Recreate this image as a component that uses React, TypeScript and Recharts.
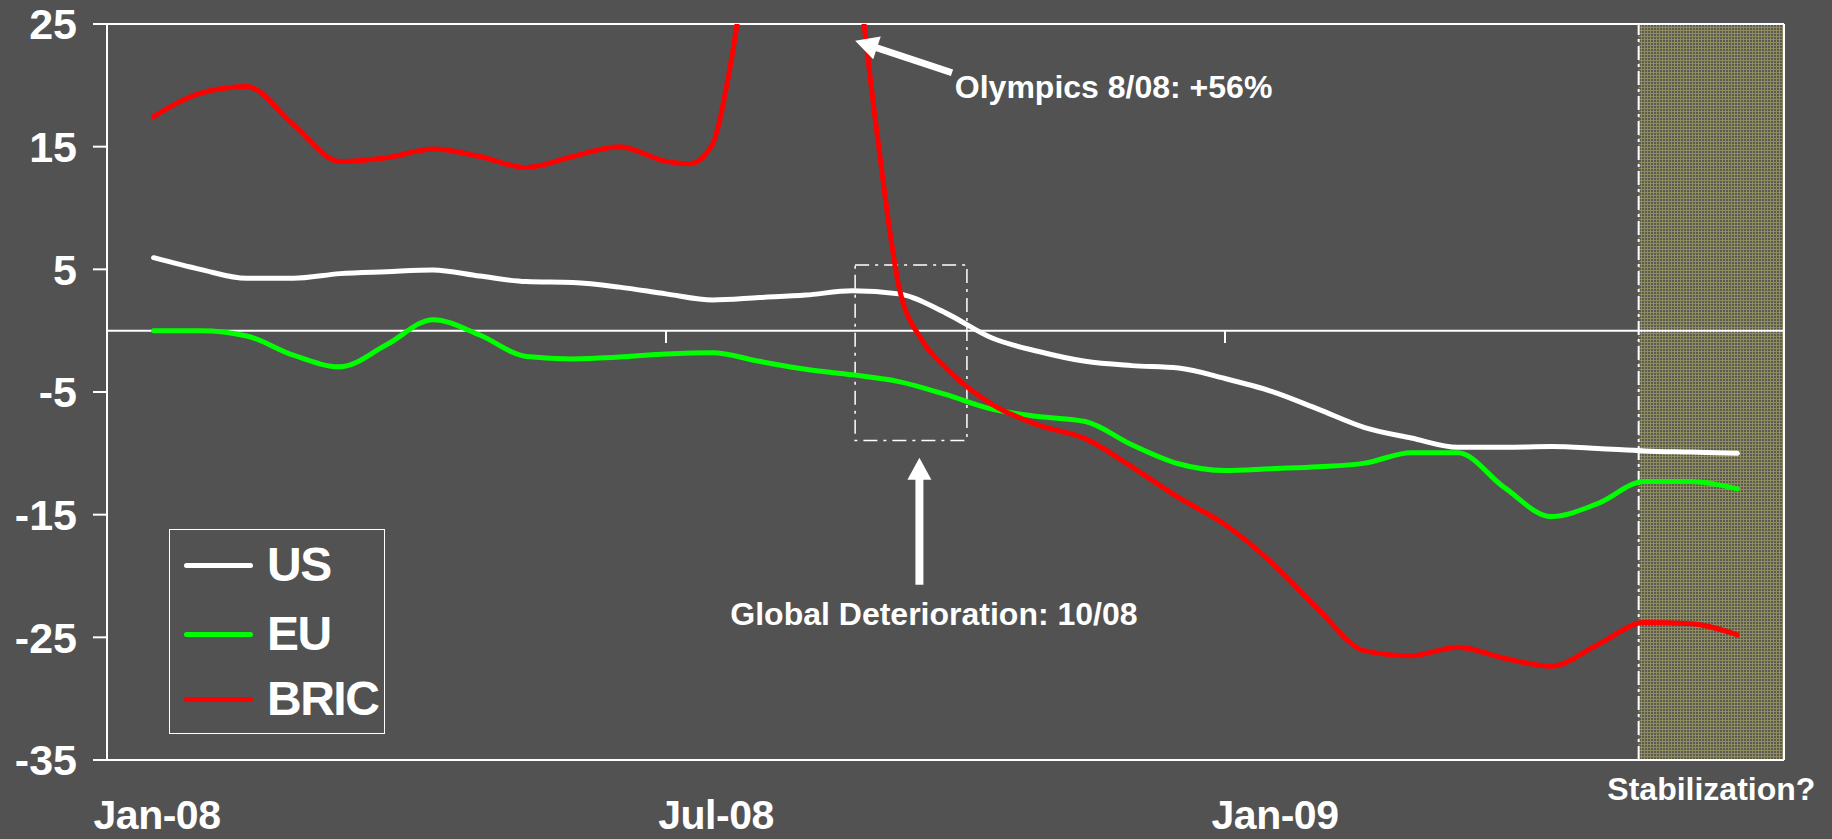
import React from 'react';
import {
  LineChart,
  Line,
  XAxis,
  YAxis,
  ReferenceLine,
  ReferenceArea,
  ReferenceDot,
  Legend,
} from 'recharts';

const FONT = '"Liberation Sans", Arial, Helvetica, sans-serif';
const BG = '#525252';

// x positions in months since Jan-08
const months = [
  0.5, 1, 1.5, 2, 2.5, 3, 3.5, 4, 4.5, 5, 5.5, 6, 6.5, 7, 7.5, 8, 8.5, 9, 9.5, 10,
  10.5, 11, 11.5, 12, 12.5, 13, 13.5, 14, 14.5, 15, 15.5, 16, 16.5, 17, 17.5,
];
const usValues = [
  5.95, 5.0, 4.27, 4.27, 4.65, 4.81, 4.95, 4.45, 4.0, 3.92, 3.55, 3.0, 2.5, 2.7, 2.9,
  3.25, 3.0, 1.45, -0.6, -1.7, -2.5, -2.85, -3.05, -3.9, -4.95, -6.4, -7.9, -8.75,
  -9.5, -9.5, -9.45, -9.6, -9.8, -9.9, -10.0,
];
const euValues = [
  0, 0, -0.43, -2.0, -2.95, -1.15, 0.9, -0.35, -2.1, -2.3, -2.15, -1.9, -1.8, -2.5,
  -3.15, -3.6, -4.15, -5.2, -6.4, -7.0, -7.41, -9.3, -10.85, -11.4, -11.25, -11.1,
  -10.8, -9.95, -9.95, -12.8, -15.15, -14.1, -12.3, -12.3, -12.9,
];
const bricMonths = [
  0.5, 1, 1.5, 2, 2.5, 3, 3.5, 4, 4.5, 5, 5.5, 6, 6.25, 6.5, 6.65, 6.8, 7, 7.5, 8,
  8.25, 8.5, 8.75, 9, 9.5, 10, 10.5, 11, 11.5, 12, 12.5, 13, 13.5, 14, 14.5, 15,
  15.5, 16, 16.5, 17, 17.5,
];
const bricValues = [
  17.45, 19.35, 19.9, 16.8, 13.8, 14.1, 14.8, 14.2, 13.3, 14.2, 15.0, 13.8, 13.6,
  15.2, 19.9, 27, 40, 56, 33, 17, 3.6, -0.8, -3.0, -6.0, -7.7, -8.8, -11.1, -13.6,
  -15.8, -18.9, -22.7, -26.1, -26.5, -25.8, -26.7, -27.35, -25.6, -23.8, -23.9, -24.8,
];

const yTicks = [25, 15, 5, -5, -15, -25, -35];
const xTickMonths = [0, 6, 12];
const xTickLabels = ['Jan-08', 'Jul-08', 'Jan-09'];

const seriesNames = ['US', 'EU', 'BRIC'];
const seriesColors = ['#FFFFFF', '#00FF00', '#FF0000'];

// annotation anchors (data units: months, percent)
const stabilizationStart = 16.44;
const xMax = 18;
const deteriorationBox = { x1: 8.03, x2: 9.23, y1: -8.96, y2: 5.36 };
const upArrow = { x: 8.72, tail: -20.72, tip: -10.37 };
const olympicsArrow = { tailX: 9.07, tailY: 21.03, tipX: 8.03, tipY: 23.64 };
const olympicsText = { x: 9.1, y: 18.97, label: 'Olympics 8/08: +56%' };
const deteriorationText = { x: 8.876, y: -23.98, label: 'Global Deterioration: 10/08' };

const usData = months.map((m, i) => ({ m, v: usValues[i] }));
const euData = months.map((m, i) => ({ m, v: euValues[i] }));
const bricData = bricMonths.map((m, i) => ({ m, v: bricValues[i] }));

const makeArrow =
  (headLen: number, headWidth: number, shaftWidth: number) => (props: any) => {
    const { x1, y1, x2, y2 } = props;
    const dx = x2 - x1;
    const dy = y2 - y1;
    const len = Math.hypot(dx, dy) || 1;
    const ux = dx / len;
    const uy = dy / len;
    const px = -uy;
    const py = ux;
    const bx = x2 - ux * headLen;
    const by = y2 - uy * headLen;
    const hw = headWidth / 2;
    return (
      <g>
        <line x1={x1} y1={y1} x2={bx + ux * 2} y2={by + uy * 2} stroke="#fff" strokeWidth={shaftWidth} />
        <polygon
          points={`${x2},${y2} ${bx + px * hw},${by + py * hw} ${bx - px * hw},${by - py * hw}`}
          fill="#fff"
        />
      </g>
    );
  };

const XTick = (props: any) => {
  const { x, y, index } = props;
  return (
    <text
      x={x + 50}
      y={y + 69}
      textAnchor="middle"
      fill="#fff"
      fontSize={41}
      fontWeight="bold"
      fontFamily={FONT}
      letterSpacing={-0.5}
    >
      {xTickLabels[index]}
    </text>
  );
};

const textShape =
  (label: string, anchor: 'start' | 'middle' | 'end') => (props: any) => (
    <text
      x={props.cx}
      y={props.cy}
      textAnchor={anchor}
      fill="#fff"
      fontSize={32}
      fontWeight="bold"
      fontFamily={FONT}
    >
      {label}
    </text>
  );

const LegendBox = () => {
  const rowY = [35, 104, 169];
  return (
    <div
      style={{
        position: 'relative',
        width: 216,
        height: 205,
        border: '1.5px solid #fff',
        boxSizing: 'border-box',
        fontFamily: FONT,
      }}
    >
      {seriesNames.map((name, i) => (
        <React.Fragment key={name}>
          <div
            style={{
              position: 'absolute',
              left: 14,
              top: rowY[i] - 2.5,
              width: 69,
              height: 5,
              borderRadius: 3,
              background: seriesColors[i],
            }}
          />
          <div
            style={{
              position: 'absolute',
              left: 97,
              top: rowY[i] - 30,
              height: 60,
              lineHeight: '60px',
              fontSize: 48,
              fontWeight: 'bold',
              color: '#fff',
              letterSpacing: -1.5,
              whiteSpace: 'nowrap',
            }}
          >
            {name}
          </div>
        </React.Fragment>
      ))}
    </div>
  );
};

export default function App() {
  return (
    <div
      style={{
        position: 'absolute',
        left: 0,
        top: 0,
        width: 1832,
        height: 839,
        background: BG,
        overflow: 'hidden',
      }}
    >
      <LineChart
        width={1832}
        height={839}
        margin={{ top: 24, right: 48, bottom: 0, left: 0 }}
        style={{ background: BG }}
      >
        <defs>
          <pattern id="stabPattern" width="3" height="3" patternUnits="userSpaceOnUse">
            <rect width="3" height="3" fill="#5a5a50" />
            <rect width="3" height="1" fill="#8f8d5f" />
            <rect width="1" height="3" fill="#8f8d5f" />
          </pattern>
        </defs>
        <XAxis
          dataKey="m"
          type="number"
          domain={[0, xMax]}
          ticks={xTickMonths}
          allowDataOverflow
          tickLine={false}
          tickSize={0}
          tickMargin={0}
          height={79}
          axisLine={{ stroke: '#fff', strokeWidth: 2 }}
          tick={<XTick />}
          interval={0}
        />
        <YAxis
          type="number"
          domain={[-35, 25]}
          ticks={yTicks}
          allowDataOverflow
          width={107}
          interval={0}
          tickSize={14}
          tickMargin={16}
          tickLine={{ stroke: '#fff', strokeWidth: 2 }}
          axisLine={{ stroke: '#fff', strokeWidth: 2 }}
          tick={{ fill: '#fff', fontSize: 43, fontWeight: 'bold', fontFamily: FONT }}
        />
        <ReferenceArea
          x1={stabilizationStart}
          x2={xMax}
          y1={-35}
          y2={25}
          fill="url(#stabPattern)"
          fillOpacity={1}
          stroke="none"
          label={{
            value: 'Stabilization?',
            position: 'bottom',
            offset: 17,
            fill: '#fff',
            fontSize: 32,
            fontWeight: 'bold',
            fontFamily: FONT,
          }}
        />
        <ReferenceLine
          x={stabilizationStart}
          stroke="#fff"
          strokeWidth={2}
          strokeDasharray="14 4 3 4"
        />
        <ReferenceLine y={25} stroke="#fff" strokeWidth={2} />
        <ReferenceLine x={xMax} stroke="#fff" strokeWidth={2} />
        <ReferenceLine y={0} stroke="#fff" strokeWidth={2} />
        {xTickMonths.slice(1).map((m) => (
          <ReferenceLine
            key={m}
            segment={[
              { x: m, y: 0 },
              { x: m, y: -1 },
            ]}
            stroke="#fff"
            strokeWidth={2}
          />
        ))}
        <Line
          data={usData}
          dataKey="v"
          name="US"
          type="monotone"
          stroke={seriesColors[0]}
          strokeWidth={5}
          strokeLinecap="round"
          dot={false}
          isAnimationActive={false}
        />
        <Line
          data={euData}
          dataKey="v"
          name="EU"
          type="monotone"
          stroke={seriesColors[1]}
          strokeWidth={5}
          strokeLinecap="round"
          dot={false}
          isAnimationActive={false}
        />
        <Line
          data={bricData}
          dataKey="v"
          name="BRIC"
          type="monotone"
          stroke={seriesColors[2]}
          strokeWidth={5}
          strokeLinecap="round"
          dot={false}
          isAnimationActive={false}
        />
        <ReferenceArea
          x1={deteriorationBox.x1}
          x2={deteriorationBox.x2}
          y1={deteriorationBox.y1}
          y2={deteriorationBox.y2}
          fill="none"
          fillOpacity={0}
          stroke="#fff"
          strokeWidth={1.5}
          strokeDasharray="14 6 3 6"
        />
        <ReferenceLine
          segment={[
            { x: upArrow.x, y: upArrow.tail },
            { x: upArrow.x, y: upArrow.tip },
          ]}
          shape={makeArrow(22, 24, 8)}
        />
        <ReferenceLine
          segment={[
            { x: olympicsArrow.tailX, y: olympicsArrow.tailY },
            { x: olympicsArrow.tipX, y: olympicsArrow.tipY },
          ]}
          shape={makeArrow(23, 24, 7)}
        />
        <ReferenceDot
          x={olympicsText.x}
          y={olympicsText.y}
          r={0}
          ifOverflow="visible"
          shape={textShape(olympicsText.label, 'start')}
        />
        <ReferenceDot
          x={deteriorationText.x}
          y={deteriorationText.y}
          r={0}
          ifOverflow="visible"
          shape={textShape(deteriorationText.label, 'middle')}
        />
        <Legend
          layout="vertical"
          align="center"
          verticalAlign="middle"
          wrapperStyle={{ left: 169, top: 529, width: 216, height: 205 }}
          content={() => <LegendBox />}
        />
      </LineChart>
    </div>
  );
}
